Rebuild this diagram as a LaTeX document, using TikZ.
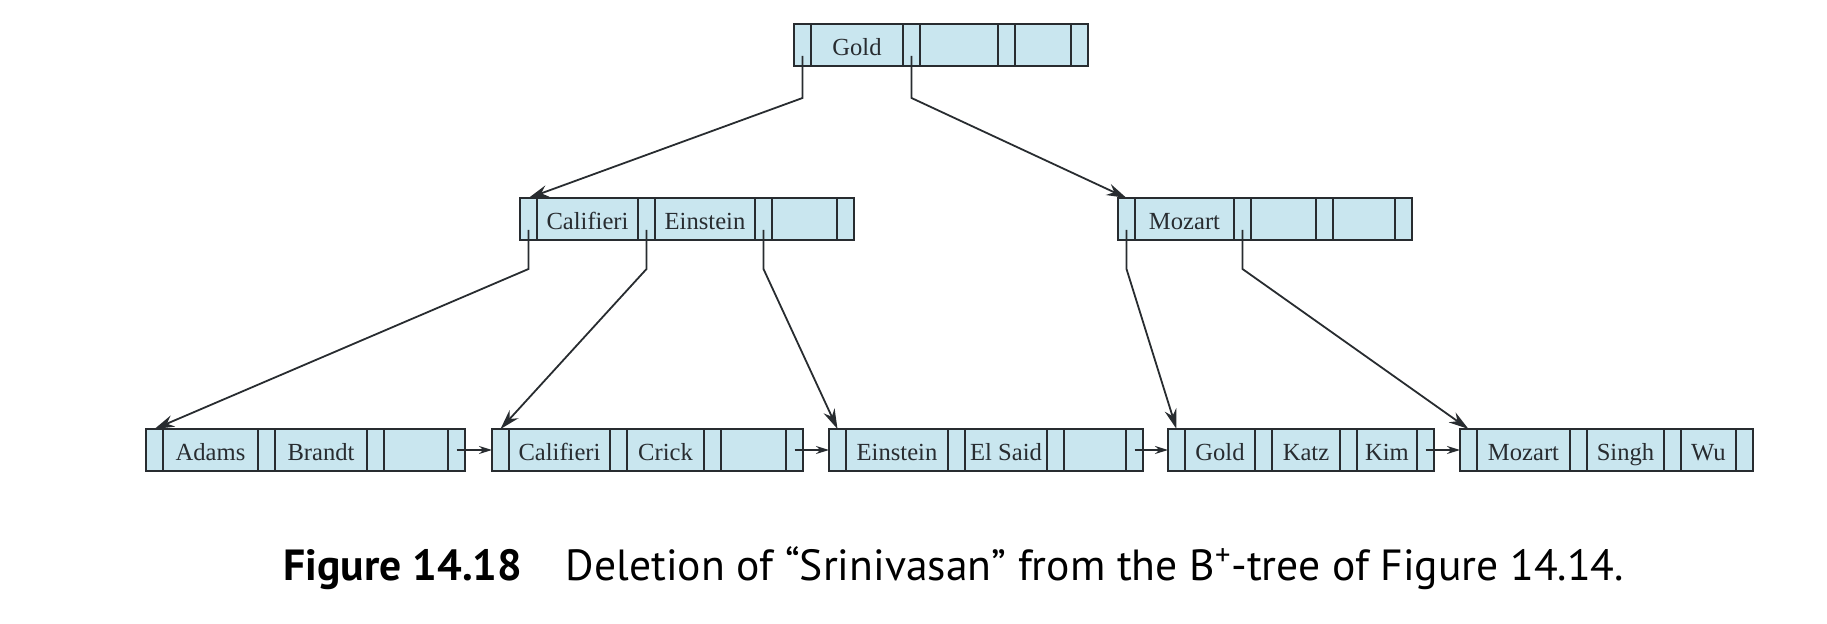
\documentclass[tikz,border=0pt]{standalone}
\usepackage{fontspec}
\setmainfont{Liberation Serif}
\newfontfamily\capfont{PT Sans}
\usepackage{xcolor}
\usepackage{tikz}
\usetikzlibrary{positioning, arrows.meta}

\definecolor{cellblue}{RGB}{201,230,239}
\definecolor{cellline}{RGB}{40,44,48}

\tikzset{
    ptrcell/.style = {draw = cellline, fill = cellblue, line width = 1.1pt,
        minimum width = 8.5pt, minimum height = 21pt, inner sep = 0pt, outer sep = 0pt},
    keycell/.style = {ptrcell, font = \fontsize{12.3}{14}\selectfont, text = cellline,
        text height = 10.5pt, text depth = 0pt},
    child/.style = {draw = cellline, line width = .9pt, -{Stealth[length = 10pt, width = 6pt]}},
    sibling/.style = {draw = cellline, line width = .9pt, -{Stealth[length = 6.5pt, width = 4pt]}},
}

% name, x, y, then width and key of the three key cells
\newcommand{\bpnode}[9]{%
    \node [ptrcell, anchor = north west] (#1-p0) at (#2, #3) {};
    \node [keycell, minimum width = #4*0.5pt, right = 0pt of #1-p0] (#1-k1) {#5};
    \node [ptrcell, right = 0pt of #1-k1] (#1-p1) {};
    \node [keycell, minimum width = #6*0.5pt, right = 0pt of #1-p1] (#1-k2) {#7};
    \node [ptrcell, right = 0pt of #1-k2] (#1-p2) {};
    \node [keycell, minimum width = #8*0.5pt, right = 0pt of #1-p2] (#1-k3) {#9};
    \node [ptrcell, right = 0pt of #1-k3] (#1-p3) {};
}

\begin{document}
\begin{tikzpicture}[x = 0.5pt, y = -0.5pt]
    \useasboundingbox (0, 0) rectangle (1827, 624);

    \bpnode{root}{794}{24}{92}{Gold}{78}{}{56}{}

    \bpnode{nCal}{520}{198}{101}{Califieri}{100}{Einstein}{65}{}
    \bpnode{nMoz}{1118}{198}{99}{Mozart}{65}{}{62}{}

    \bpnode{lAdams}{146}{429}{95}{Adams}{92}{Brandt}{64}{}
    \bpnode{lCal}{492}{429}{101}{Califieri}{77}{Crick}{65}{}
    \bpnode{lEin}{829}{429}{102}{Einstein}{82}{El Said}{62}{}
    \bpnode{lGold}{1168}{429}{70}{Gold}{68}{Katz}{60}{Kim}
    \bpnode{lMoz}{1460}{429}{93}{Mozart}{77}{Singh}{55}{Wu}

    \draw [child] ([shift = {(0, -10)}] root-p0.south) -- ++(0, 42) -- (nCal-p0.north);
    \draw [child] ([shift = {(0, -10)}] root-p1.south) -- ++(0, 42) -- (nMoz-p0.north);

    \draw [child] ([shift = {(0, -10)}] nCal-p0.south) -- ++(0, 39) -- (lAdams-p0.north);
    \draw [child] ([shift = {(0, -10)}] nCal-p1.south) -- ++(0, 39) -- (lCal-p0.north);
    \draw [child] ([shift = {(0, -10)}] nCal-p2.south) -- ++(0, 39) -- (lEin-p0.north);
    \draw [child] ([shift = {(0, -10)}] nMoz-p0.south) -- ++(0, 39) -- (lGold-p0.north);
    \draw [child] ([shift = {(0, -10)}] nMoz-p1.south) -- ++(0, 39) -- (lMoz-p0.north);

    \foreach \a/\b in {lAdams/lCal, lCal/lEin, lEin/lGold, lGold/lMoz}
        \draw [sibling] (\a-p3.center) -- (\b-p0.west);

    \node [anchor = base west, inner sep = 0pt, font = \capfont\fontsize{21.8}{25}\selectfont] (caption) at (283, 581)
        {\textbf{Figure 14.18}\quad Deletion of “Srinivasan” from the B\textsuperscript{+}-tree of Figure 14.14.};
\end{tikzpicture}
\end{document}
